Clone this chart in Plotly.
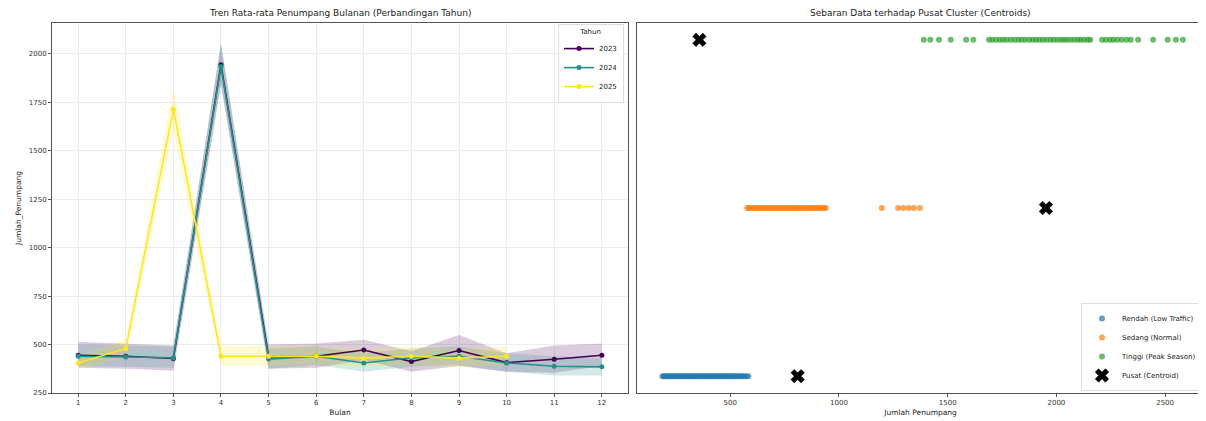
import plotly.graph_objects as go

# ---------------- data: left panel (monthly mean with CI) ----------------
months = [1, 2, 3, 4, 5, 6, 7, 8, 9, 10, 11, 12]
years = ["2023", "2024", "2025"]

mean_2023 = [445, 440, 428, 1945, 438, 440, 472, 412, 469, 407, 424, 445]
low_2023 = [380, 375, 365, 1840, 375, 380, 420, 360, 390, 360, 355, 390]
high_2023 = [515, 505, 495, 2050, 500, 505, 525, 465, 550, 455, 495, 505]

mean_2024 = [440, 436, 432, 1935, 425, 440, 405, 432, 440, 405, 388, 385]
low_2024 = [390, 385, 380, 1850, 375, 395, 360, 385, 395, 360, 340, 340]
high_2024 = [500, 495, 490, 2060, 480, 490, 455, 480, 490, 455, 440, 430]

months_2025 = [1, 2, 3, 4, 5, 6, 7, 8, 9, 10]
mean_2025 = [405, 480, 1715, 440, 440, 440, 430, 440, 430, 440]
low_2025 = [370, 435, 1600, 390, 390, 395, 385, 395, 385, 395]
high_2025 = [445, 525, 1830, 495, 495, 490, 480, 490, 480, 490]

year_colors = ["#440154", "#21918c", "#fde725"]
band_colors = ["rgba(68,1,84,0.2)", "rgba(33,145,140,0.2)", "rgba(253,231,37,0.2)"]

left_yticks = [250, 500, 750, 1000, 1250, 1500, 1750, 2000]

# ---------------- data: right panel (cluster scatter) ----------------
cluster_names = ["Rendah (Low Traffic)", "Sedang (Normal)", "Tinggi (Peak Season)"]
cluster_colors = ["#1f77b4", "#ff7f0e", "#2ca02c"]

low_x = [188, 195, 203, 209, 216, 224, 231, 238, 246, 252, 261, 268, 274, 283, 290,
         297, 305, 311, 319, 327, 334, 340, 349, 356, 363, 371, 378, 385, 393, 400,
         408, 415, 422, 430, 437, 445, 452, 460, 467, 475, 482, 490, 498, 505, 513,
         521, 529, 537, 546, 555, 564, 573, 583]
normal_x = [578, 586, 595, 603, 612, 620, 629, 637, 646, 655, 663, 672, 680, 689, 698,
            706, 715, 723, 732, 741, 749, 758, 766, 775, 784, 792, 801, 810, 818, 827,
            836, 845, 853, 862, 871, 880, 889, 898, 906, 915, 923, 932, 940,
            1197, 1272, 1296, 1320, 1344, 1372]
peak_x = [1390, 1420, 1460, 1514, 1585, 1618, 1690, 1705, 1722, 1740, 1756, 1772, 1790,
          1808, 1825, 1840, 1856, 1875, 1890, 1906, 1922, 1938, 1955, 1972, 1988, 2004,
          2020, 2035, 2050, 2066, 2082, 2098, 2112, 2128, 2145, 2156, 2210, 2228, 2246,
          2262, 2280, 2300, 2322, 2342, 2376, 2445, 2512, 2550, 2582]
cluster_levels = [0, 1, 2]

centroid_x = [358, 1952, 810]
centroid_y = [2, 1, 0]

right_xticks = [500, 1000, 1500, 2000, 2500]

# ---------------- figure ----------------
# page body has an 8px margin, so the figure is 8px smaller and positions are shifted
OFF = 8
W, H = 1206 - OFF, 421 - OFF
FONT = "DejaVu Sans"
fig = go.Figure()

series = [
    (months, mean_2023, low_2023, high_2023),
    (months, mean_2024, low_2024, high_2024),
    (months_2025, mean_2025, low_2025, high_2025),
]

for i, (mx, mv, lo, hi) in enumerate(series):
    fig.add_trace(go.Scatter(
        x=list(mx) + list(mx)[::-1], y=list(hi) + list(lo)[::-1],
        fill="toself", fillcolor=band_colors[i], line=dict(width=0),
        mode="lines", hoverinfo="skip", showlegend=False,
        xaxis="x", yaxis="y"))

for i, (mx, mv, lo, hi) in enumerate(series):
    fig.add_trace(go.Scatter(
        x=mx, y=mv, mode="lines+markers", name=years[i],
        line=dict(color=year_colors[i], width=1.6),
        marker=dict(color=year_colors[i], size=5),
        xaxis="x", yaxis="y", legend="legend"))

cluster_xs = [low_x, normal_x, peak_x]
for i in range(3):
    xs = cluster_xs[i]
    fig.add_trace(go.Scatter(
        x=xs, y=[cluster_levels[i]] * len(xs), mode="markers",
        name=cluster_names[i],
        marker=dict(color=cluster_colors[i], size=6, opacity=0.7),
        xaxis="x2", yaxis="y2", legend="legend2"))

fig.add_trace(go.Scatter(
    x=centroid_x, y=centroid_y, mode="markers", name="Pusat (Centroid)",
    marker=dict(color="black", size=12, symbol="x",
                line=dict(width=0.5, color="black")),
    xaxis="x2", yaxis="y2", legend="legend2"))

axis_common = dict(showline=True, linecolor="#555555", linewidth=1, mirror=True,
                   ticks="outside", ticklen=3, tickcolor="#555555",
                   tickfont=dict(family=FONT, size=7, color="#333333"),
                   zeroline=False, automargin=False)


def fx(px):
    return (px - OFF) / W


top_px, bot_px = 23, 393
plot_h = bot_px - top_px


def fy(py):
    return (bot_px - py) / plot_h


fig.update_layout(
    width=W, height=H,
    margin=dict(l=0, r=0, t=top_px - OFF, b=421 - bot_px, autoexpand=False),
    paper_bgcolor="white", plot_bgcolor="white",
    font=dict(family=FONT, size=8, color="#222222"),
    xaxis=dict(domain=[fx(52), fx(628)], range=[0.45, 12.55],
               tickvals=months, showgrid=True, gridcolor="#ececec", gridwidth=0.8,
               title=dict(text="Bulan", font=dict(family=FONT, size=7.5), standoff=3),
               anchor="y", **axis_common),
    yaxis=dict(range=[250, 2160], tickvals=left_yticks, showgrid=True,
               gridcolor="#ececec", gridwidth=0.8,
               title=dict(text="Jumlah_Penumpang", font=dict(family=FONT, size=7.5), standoff=6),
               anchor="x", **axis_common),
    xaxis2=dict(domain=[fx(637), fx(1204)], range=[71, 2679],
                tickvals=right_xticks, showgrid=False,
                title=dict(text="Jumlah Penumpang", font=dict(family=FONT, size=7.5), standoff=3),
                anchor="y2", **axis_common),
    yaxis2=dict(range=[-0.1, 2.1], showgrid=False, showticklabels=False,
                showline=True, linecolor="#555555", linewidth=1, mirror=True,
                ticks="", zeroline=False, anchor="x2"),
    legend=dict(title=dict(text="Tahun", side="top center", font=dict(family=FONT, size=7)),
                x=fx(624), xanchor="right", y=fy(24), yanchor="top",
                bgcolor="rgba(255,255,255,0.85)", bordercolor="#dddddd", borderwidth=1,
                font=dict(family=FONT, size=7), itemwidth=30, tracegroupgap=0),
    legend2=dict(x=fx(1203), xanchor="right", y=fy(391), yanchor="bottom",
                 bgcolor="rgba(255,255,255,0.85)", bordercolor="#dddddd", borderwidth=1,
                 font=dict(family=FONT, size=7), itemwidth=30, tracegroupgap=0),
    annotations=[
        dict(text="Tren Rata-rata Penumpang Bulanan (Perbandingan Tahun)",
             x=(fx(52) + fx(628)) / 2, y=1, xref="paper", yref="paper",
             xanchor="center", yanchor="bottom", yshift=3, showarrow=False,
             font=dict(family=FONT, size=9, color="#222222")),
        dict(text="Sebaran Data terhadap Pusat Cluster (Centroids)",
             x=(fx(637) + fx(1204)) / 2, y=1, xref="paper", yref="paper",
             xanchor="center", yanchor="bottom", yshift=3, showarrow=False,
             font=dict(family=FONT, size=9, color="#222222")),
    ],
)

fig.write_html("out.html")
